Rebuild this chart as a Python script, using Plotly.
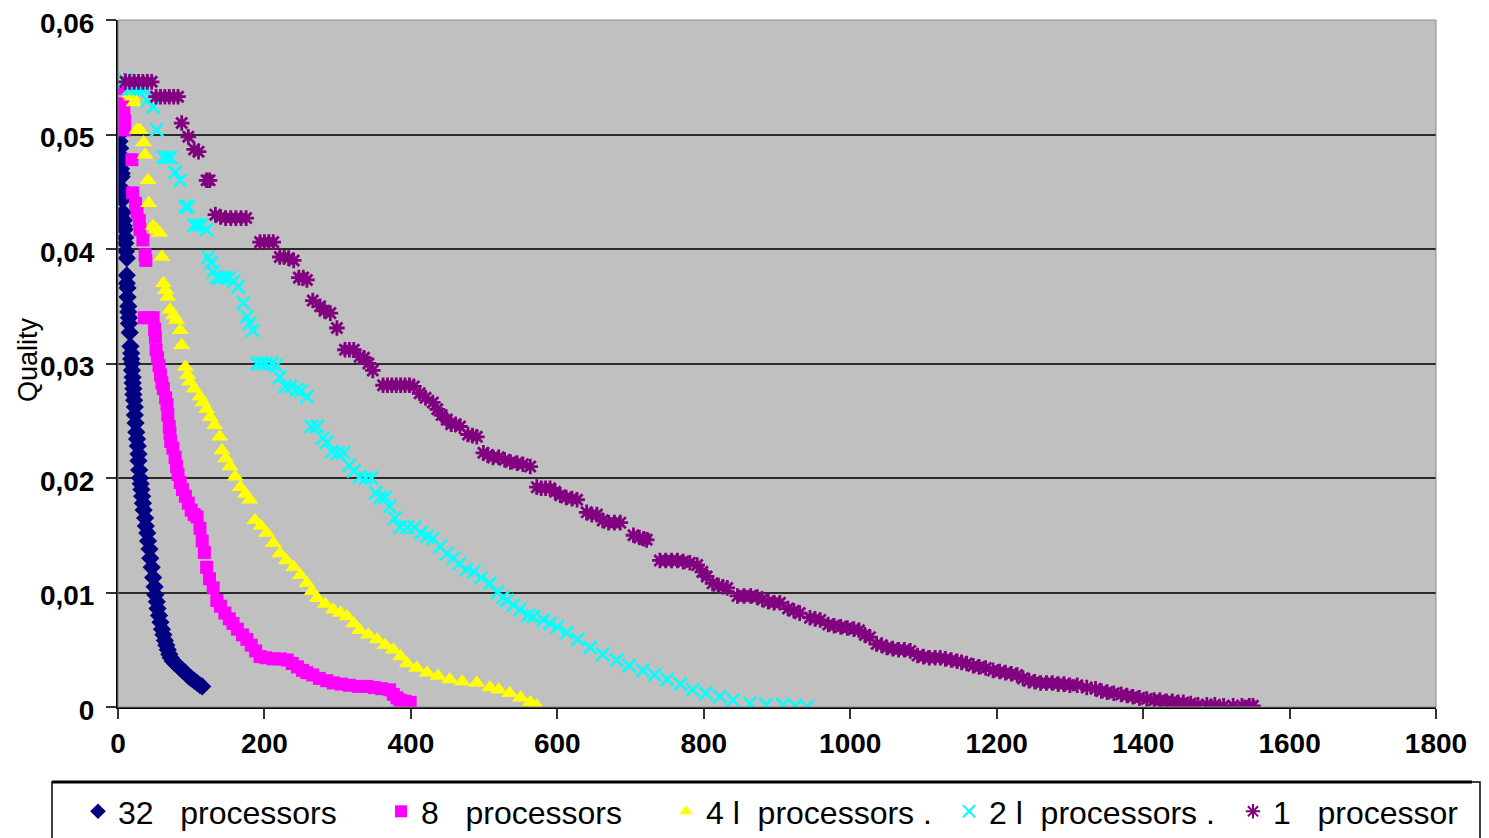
import plotly.graph_objects as go

# ---- data: (time, quality) pairs ----
p32 = [(0,0.0519),(1,0.0510),(1,0.0506),(2,0.0500),(2,0.0494),(3,0.0488),(3,0.0482),(4,0.0476),(4,0.0470),
       (5,0.0466),(5,0.0463),(5,0.0453),(6,0.0448),(6,0.0443),(7,0.0432),(8,0.0425),(8,0.0420),(9,0.0417),
       (10,0.0410),(10,0.0405),(11,0.0398),(12,0.0392),(12,0.0377),(12,0.0370),(13,0.0366),(13,0.0358),
       (14,0.0350),(14,0.0345),(15,0.0340),(15,0.0335),(16,0.0327),(17,0.0315),(18,0.0309),(18,0.0304),
       (19,0.0300),(19,0.0294),(20,0.0288),(20,0.0283),(21,0.0278),(21,0.0273),(22,0.0268),(23,0.0262),
       (23,0.0255),(24,0.0248),(25,0.0240),(26,0.0234),(27,0.0228),(28,0.0221),(28,0.0215),(29,0.0207),
       (30,0.0200),(31,0.0195),(32,0.0190),(33,0.0184),(34,0.0178),(35,0.0172),(37,0.0165),(38,0.0158),
       (40,0.0152),(41,0.0145),(43,0.0138),(44,0.0130),(46,0.0122),(48,0.0113),(50,0.0105),(51,0.0098),
       (53,0.0092),(54,0.0086),(56,0.0080),(58,0.0074),(60,0.0068),(62,0.0063),(64,0.0058),(66,0.0054),
       (68,0.0050),(70,0.0046),(72,0.0043),(75,0.0040),(78,0.0038),(82,0.0036),(85,0.0034),(88,0.0032),
       (92,0.0030),(96,0.0027),(100,0.0025),(104,0.0023),(108,0.0021),(112,0.0019),(115,0.0018)]

p8 = [(0,0.0548),(3,0.0548),(6,0.0540),(7,0.0527),(8,0.0520),(9,0.0512),(9,0.0504),(19,0.0478),(20,0.0449),
      (24,0.0440),(26,0.0432),(29,0.0425),(30,0.0417),(34,0.0408),(37,0.0395),(38,0.0390),(36,0.0340),
      (42,0.0340),(48,0.0340),(50,0.0330),(51,0.0323),(52,0.0312),(54,0.0305),(56,0.0298),(58,0.0290),
      (60,0.0283),(62,0.0278),(65,0.0270),(67,0.0264),(68,0.0255),(70,0.0245),(71,0.0239),(72,0.0232),
      (75,0.0226),(78,0.0218),(80,0.0210),(82,0.0203),(85,0.0196),(88,0.0190),(92,0.0184),(96,0.0178),
      (100,0.0172),(104,0.0168),(108,0.0166),(112,0.0156),(115,0.0145),(118,0.0135),(121,0.0122),
      (125,0.0112),(130,0.0104),(135,0.0093),(140,0.0088),(146,0.0082),(152,0.0077),(157,0.0073),
      (163,0.0068),(170,0.0063),(176,0.0059),(182,0.0054),(188,0.0049),(194,0.0044),(202,0.0043),
      (212,0.0042),(222,0.0042),(231,0.0041),(238,0.0038),(245,0.0035),(252,0.0032),(258,0.0030),
      (266,0.0028),(275,0.0025),(285,0.0023),(294,0.0021),(305,0.0020),(316,0.0019),(328,0.0018),
      (340,0.0018),(350,0.0017),(360,0.0016),(371,0.0015),(376,0.0011),(381,0.0008),(385,0.0006),
      (392,0.0005),(399,0.0004)]

p4 = [(5,0.0548),(10,0.0545),(17,0.0535),(19,0.0533),(22,0.0528),(26,0.0504),(30,0.0504),(35,0.0493),
      (37,0.0482),(41,0.0460),(42,0.0440),(48,0.0420),(52,0.0417),(57,0.0414),(60,0.0393),(62,0.0370),
      (65,0.0364),(68,0.0358),(71,0.0347),(76,0.0342),(80,0.0338),(85,0.0329),(87,0.0316),(92,0.0297),
      (95,0.0290),(98,0.0284),(104,0.0278),(112,0.0271),(116,0.0266),(121,0.0260),(126,0.0253),
      (132,0.0246),(139,0.0236),(142,0.0224),(147,0.0217),(153,0.0210),(160,0.0201),(167,0.0192),
      (174,0.0186),(180,0.0181),(187,0.0163),(195,0.0158),(203,0.0152),(212,0.0143),(221,0.0134),
      (230,0.0128),(240,0.0122),(249,0.0115),(258,0.0108),(265,0.0101),(272,0.0095),(283,0.0090),
      (294,0.0085),(304,0.0082),(313,0.0079),(322,0.0073),(330,0.0067),(342,0.0063),(354,0.0059),
      (365,0.0054),(376,0.0050),(386,0.0044),(395,0.0038),(408,0.0034),(422,0.0030),(437,0.0027),
      (453,0.0024),(470,0.0022),(490,0.0021),(508,0.0017),(520,0.0015),(535,0.0012),(550,0.0008),
      (563,0.0004),(572,0.0001)]

p2 = [(5,0.0545),(10,0.0548),(15,0.0540),(20,0.0540),(26,0.0540),(32,0.0540),(38,0.0540),(40,0.0530),
      (48,0.0524),(53,0.0504),(62,0.0480),(67,0.0480),(72,0.0480),(78,0.0467),(85,0.0460),(92,0.0437),
      (96,0.0437),(104,0.0421),(108,0.0421),(114,0.0421),(121,0.0417),(123,0.0393),(127,0.0388),
      (130,0.0380),(135,0.0375),(140,0.0375),(146,0.0375),(152,0.0375),(158,0.0372),(164,0.0367),
      (171,0.0353),(176,0.0341),(180,0.0335),(184,0.0329),(190,0.0300),(196,0.0300),(202,0.0300),
      (210,0.0300),(216,0.0298),(221,0.0288),(228,0.0280),(236,0.0280),(244,0.0277),(250,0.0276),
      (258,0.0271),(264,0.0245),(272,0.0245),(280,0.0235),(285,0.0231),(292,0.0223),(300,0.0222),
      (308,0.0222),(316,0.0211),(322,0.0206),(330,0.0201),(338,0.0200),(346,0.0200),(352,0.0187),
      (358,0.0183),(365,0.0183),(371,0.0175),(378,0.0165),(385,0.0157),(395,0.0157),(405,0.0157),
      (414,0.0152),(422,0.0149),(430,0.0147),(440,0.0140),(449,0.0134),(458,0.0130),(466,0.0125),
      (476,0.0120),(486,0.0118),(496,0.0113),(508,0.0108),(518,0.0100),(526,0.0096),(531,0.0093),
      (540,0.0089),(549,0.0085),(560,0.0080),(567,0.0079),(581,0.0076),(590,0.0073),(600,0.0070),
      (613,0.0065),(628,0.0059),(645,0.0052),(662,0.0046),(681,0.0041),(698,0.0036),(717,0.0032),
      (733,0.0028),(750,0.0024),(768,0.0020),(785,0.0015),(803,0.0012),(822,0.0009),(840,0.0006),
      (863,0.0003),(885,0.0002),(908,0.0002),(925,0.0001),(941,0.0000)]

p1 = [(10,0.0546),(16,0.0546),(22,0.0546),(28,0.0546),(34,0.0546),(40,0.0546),(46,0.0546),
      (52,0.0533),(58,0.0533),(64,0.0533),(70,0.0533),(76,0.0533),(82,0.0533),
      (87,0.0510),(96,0.0498),(104,0.0487),(110,0.0485),(121,0.0460),(125,0.0460),
      (133,0.0430),(140,0.0428),(147,0.0427),(154,0.0427),(161,0.0427),(168,0.0427),(175,0.0427),
      (194,0.0406),(200,0.0406),(206,0.0406),(212,0.0406),(221,0.0393),(227,0.0393),(233,0.0392),
      (240,0.0390),(247,0.0375),(253,0.0375),(258,0.0373),(266,0.0355),(276,0.0350),(282,0.0346),
      (290,0.0344),(299,0.0331),(310,0.0312),(316,0.0312),(322,0.0312),(330,0.0306),(336,0.0305),
      (342,0.0300),(348,0.0294),(362,0.0281),(368,0.0281),(374,0.0281),(380,0.0281),(386,0.0281),
      (392,0.0281),(398,0.0281),(404,0.0280),(412,0.0274),(420,0.0270),(430,0.0266),(436,0.0260),
      (442,0.0255),(449,0.0251),(455,0.0247),(461,0.0247),(467,0.0245),(478,0.0238),(484,0.0237),
      (490,0.0236),(499,0.0222),(505,0.0220),(512,0.0218),(520,0.0218),(528,0.0216),(536,0.0214),
      (545,0.0213),(553,0.0212),(563,0.0210),(572,0.0192),(578,0.0191),(584,0.0191),(590,0.0191),
      (597,0.0188),(604,0.0185),(612,0.0183),(620,0.0182),(627,0.0181),(640,0.0170),(647,0.0168),
      (654,0.0168),(662,0.0163),(670,0.0161),(678,0.0161),(686,0.0161),(704,0.0150),(712,0.0148),
      (718,0.0147),(722,0.0146),(740,0.0128),(748,0.0128),(756,0.0128),(764,0.0128),(772,0.0127),
      (781,0.0126),(791,0.0124),(798,0.0118),(804,0.0114),(812,0.0108),(820,0.0106),(826,0.0105),
      (832,0.0104),(846,0.0097),(855,0.0097),(864,0.0097),(873,0.0096),(880,0.0094),(888,0.0092),
      (896,0.0091),(904,0.0091),(915,0.0086),(923,0.0084),(931,0.0082),(945,0.0078),(952,0.0077),
      (959,0.0076),(970,0.0072),(978,0.0071),(987,0.0070),(996,0.0069),(1005,0.0068),(1012,0.0067),
      (1020,0.0063),(1027,0.0061),(1036,0.0055),(1043,0.0054),(1050,0.0052),(1058,0.0051),
      (1066,0.0050),(1074,0.0050),(1082,0.0049),(1092,0.0045),(1100,0.0044),(1108,0.0043),
      (1116,0.0043),(1123,0.0043),(1130,0.0042),(1138,0.0041),(1146,0.0040),(1152,0.0039),
      (1159,0.0038),(1168,0.0036),(1176,0.0035),(1185,0.0034),(1195,0.0032),(1204,0.0031),
      (1212,0.0030),(1220,0.0029),(1228,0.0028),(1236,0.0025),(1244,0.0023),(1252,0.0022),
      (1260,0.0021),(1268,0.0021),(1276,0.0021),(1284,0.0020),(1292,0.0020),(1300,0.0019),
      (1310,0.0019),(1323,0.0017),(1335,0.0016),(1343,0.0014),(1351,0.0013),(1360,0.0012),
      (1370,0.0011),(1378,0.0010),(1386,0.0009),(1395,0.0008),(1405,0.0007),(1415,0.0006),
      (1423,0.0006),(1432,0.0005),(1440,0.0005),(1448,0.0004),(1455,0.0004),(1465,0.0003),
      (1475,0.0002),(1487,0.0002),(1498,0.0002),(1510,0.0001),(1523,0.0001),(1535,0.0001),
      (1545,0.0001),(1550,0.0001)]

series_names = ["32   processors", "8   processors", "4 l  processors .", "2 l  processors .", "1   processor"]
y_tick_vals = [0, 0.01, 0.02, 0.03, 0.04, 0.05, 0.06]
y_tick_text = ["0", "0,01", "0,02", "0,03", "0,04", "0,05", "0,06"]
x_tick_vals = [0, 200, 400, 600, 800, 1000, 1200, 1400, 1600, 1800]

styles = [
    dict(symbol="diamond", size=14, color="#000080"),
    dict(symbol="square", size=13, color="#FF00FF"),
    dict(symbol="triangle-up", size=15, color="#FFFF00"),
    dict(symbol="x-thin-open", size=13, color="#00FFFF", line=dict(width=2.6, color="#00FFFF")),
    dict(symbol="asterisk-open", size=13, color="#800080", line=dict(width=2.8, color="#800080")),
]

# page body has an 8px margin: figure coordinates = screen coordinates - 8
OFF = 8
W, H = 1489 - OFF, 838 - OFF
L, T = 118 - OFF, 20 - OFF
R = W - (1436 - OFF)
B = H - (707 - OFF)
pw, ph = W - L - R, H - T - B

def px2x(px):
    return (px - OFF - L) / pw

def py2y(py):
    return (H - B - (py - OFF)) / ph

legend_ids = ["legend", "legend2", "legend3", "legend4", "legend5"]
legend_px = [78, 381, 666, 949, 1233]

fig = go.Figure()
for pts, name, st, lid in zip([p32, p8, p4, p2, p1], series_names, styles, legend_ids):
    fig.add_trace(go.Scatter(
        x=[p[0] for p in pts], y=[p[1] for p in pts], mode="markers", name=name,
        marker=st, legend=lid))

legend_common = dict(orientation="h", xanchor="left", yanchor="top", y=py2y(784),
                     font=dict(size=32, family="Arial, Liberation Sans", color="black"),
                     bgcolor="rgba(0,0,0,0)", itemsizing="constant")

fig.update_layout(
    width=W, height=H,
    margin=dict(l=L, r=R, t=T, b=B, autoexpand=False),
    paper_bgcolor="white", plot_bgcolor="#C0C0C0",
    font=dict(family="Arial, Liberation Sans", color="black"),
    showlegend=True,
    xaxis=dict(range=[0, 1800], tickvals=x_tick_vals, showgrid=False, zeroline=False,
               showline=True, linecolor="black", linewidth=2,
               ticks="outside", ticklen=10, tickwidth=1.5, tickcolor="#333",
               ticklabeloverflow="allow",
               tickfont=dict(size=28, weight="bold", color="black")),
    yaxis=dict(range=[0, 0.06], tickvals=y_tick_vals, ticktext=y_tick_text,
               showgrid=True, gridcolor="#2b2b2b", gridwidth=1.5, zeroline=False,
               showline=True, linecolor="black", linewidth=2,
               ticks="outside", ticklen=10, tickwidth=1.5, tickcolor="#333",
               ticklabelstandoff=6, ticklabeloverflow="allow", ticklabelshift=3,
               tickfont=dict(size=28, weight="bold", color="black")),
    annotations=[dict(text="Quality", x=px2x(28), y=py2y(360), xref="paper", yref="paper",
                      showarrow=False, textangle=-90, font=dict(size=27, color="black"),
                      xanchor="center", yanchor="middle")],
    shapes=[
        dict(type="rect", xref="paper", yref="paper", x0=0, x1=1, y0=0, y1=1,
             line=dict(color="#8a8a8a", width=1), layer="above"),
        dict(type="rect", xref="paper", yref="paper", x0=px2x(52), x1=px2x(1480),
             y0=py2y(850), y1=py2y(782), line=dict(color="black", width=1.5)),
        dict(type="line", xref="paper", yref="paper", x0=px2x(52), x1=px2x(1472),
             y0=py2y(782), y1=py2y(782), line=dict(color="black", width=3)),
    ],
)
for lid, lx in zip(legend_ids, legend_px):
    fig.update_layout({lid: dict(legend_common, x=px2x(lx))})

fig.write_html("out.html")
